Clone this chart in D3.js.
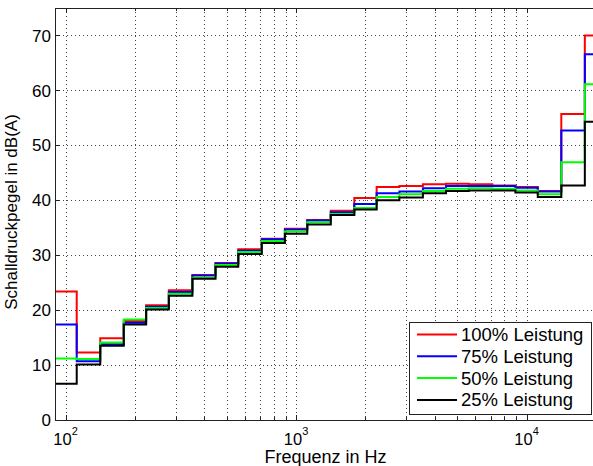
<!DOCTYPE html>
<html><head><meta charset="utf-8">
<script src="https://cdn.jsdelivr.net/npm/d3@7"></script>
<style>body{margin:0;background:#fff} svg{display:block}</style>
</head><body><svg id="c" width="593" height="466"></svg>
<script>
// Third-octave band centre frequencies (Hz)
const bandCenters = [100,125,160,200,250,315,400,500,630,800,1000,1250,1600,2000,2500,3150,4000,5000,6300,8000,10000,12500,16000,20000];
// Sound pressure level in dB(A) per band
const p100 = [23.4,12.3,14.9,18.0,20.9,23.6,26.4,28.6,31.1,33.0,34.8,36.4,38.1,40.4,42.4,42.6,42.9,43.0,42.9,42.7,42.4,41.7,55.7,70.0];
const p75  = [17.4,10.7,13.8,17.7,20.6,23.3,26.3,28.5,30.8,32.9,34.7,36.3,37.8,39.3,41.3,41.6,42.2,42.6,42.6,42.6,42.3,41.6,52.7,66.6];
const p50  = [11.2,11.1,14.1,18.3,20.4,23.0,25.9,28.2,30.6,32.6,34.3,36.0,37.5,38.6,40.6,41.1,41.7,42.1,42.2,42.1,41.8,41.1,46.9,61.1];
const p25  = [ 6.6,10.1,13.5,17.4,20.1,22.6,25.7,27.9,30.2,32.2,33.9,35.6,37.3,38.3,40.0,40.5,41.3,41.7,41.8,41.8,41.4,40.6,42.7,54.3];
const seriesNames = ["100% Leistung","75% Leistung","50% Leistung","25% Leistung"];
const seriesColors = ["#ff0000","#0000ff","#00ff00","#000000"];
const yTicks = [0,10,20,30,40,50,60,70];
const xMajorTicks = [100,1000,10000];
const xTickBase = "10";
const xTickExponents = ["2","3","4"];
const xLabel = "Frequenz in Hz";
const yLabel = "Schalldruckpegel in dB(A)";

const series = [p100,p75,p50,p25];
const L = 55, R = 596, T = 8, B = 420;
const svg = d3.select("#c");
const font = "'Liberation Sans', Arial, sans-serif";

const x = d3.scaleLog().domain([90,20000]).range([L,R]);
const y = d3.scaleLinear().domain([0,75]).range([B,T]);

// band edges (geometric means between neighbouring centres)
const edges = bandCenters.map((c,i) => i===0 ? c/Math.sqrt(bandCenters[1]/bandCenters[0]) : Math.sqrt(bandCenters[i-1]*c));
const lastEdge = bandCenters[bandCenters.length-1]*Math.sqrt(bandCenters[bandCenters.length-1]/bandCenters[bandCenters.length-2]);

svg.append("defs").append("clipPath").attr("id","clip")
  .append("rect").attr("x",L).attr("y",T).attr("width",R-L).attr("height",B-T);

// grid
const minorX = [];
[100,1000,10000].forEach(d => { for (let k=1;k<10;k++){ const v=d*k; if (v>=90 && v<=20000) minorX.push(v);} });
const grid = svg.append("g").attr("stroke","#444").attr("stroke-width",1).attr("stroke-dasharray","1,3");
grid.selectAll("line.v").data(minorX).join("line")
  .attr("x1",d=>Math.round(x(d))+0.5).attr("x2",d=>Math.round(x(d))+0.5).attr("y1",T).attr("y2",B);
grid.selectAll("line.h").data(yTicks.filter(d=>d>0)).join("line")
  .attr("y1",d=>Math.round(y(d))+0.5).attr("y2",d=>Math.round(y(d))+0.5).attr("x1",L).attr("x2",R);

// stairs
const line = d3.line().x(d=>x(d[0])).y(d=>y(d[1])).curve(d3.curveStepAfter);
const plot = svg.append("g").attr("clip-path","url(#clip)");
series.forEach((s,i) => {
  const pts = s.map((v,j)=>[edges[j],v]);
  pts.push([lastEdge, s[s.length-1]]);
  plot.append("path").datum(pts).attr("d",line).attr("fill","none")
    .attr("stroke",seriesColors[i]).attr("stroke-width",2);
});

// axes box
const ax = svg.append("g").attr("stroke","#222").attr("stroke-width",1).attr("fill","none");
ax.append("line").attr("x1",L+0.5).attr("x2",L+0.5).attr("y1",T).attr("y2",B);
ax.append("line").attr("x1",L).attr("x2",R).attr("y1",B+0.5).attr("y2",B+0.5);
ax.append("line").attr("x1",L).attr("x2",R).attr("y1",T+0.5).attr("y2",T+0.5);
// ticks
yTicks.forEach(d => {
  ax.append("line").attr("x1",L).attr("x2",L+5).attr("y1",Math.round(y(d))+0.5).attr("y2",Math.round(y(d))+0.5);
});
minorX.forEach(d => {
  const len = xMajorTicks.includes(d) ? 5 : 3;
  const xx = Math.round(x(d))+0.5;
  ax.append("line").attr("x1",xx).attr("x2",xx).attr("y1",B).attr("y2",B-len);
  ax.append("line").attr("x1",xx).attr("x2",xx).attr("y1",T).attr("y2",T+len);
});

// y tick labels
svg.append("g").selectAll("text").data(yTicks).join("text")
  .attr("x",51).attr("y",d=>y(d)).attr("dy","0.36em").attr("text-anchor","end")
  .attr("font-family",font).attr("font-size",17).attr("fill","#000").text(d=>d);

// x tick labels
xMajorTicks.forEach((d,i) => {
  const t = svg.append("text").attr("x",x(d)).attr("y",445).attr("text-anchor","middle")
    .attr("font-family",font).attr("font-size",16.5).attr("fill","#000");
  t.append("tspan").text(xTickBase);
  t.append("tspan").attr("dy",-10).attr("font-size",11).text(xTickExponents[i]);
});

// axis labels
svg.append("text").attr("x",(L+R)/2).attr("y",463).attr("text-anchor","middle")
  .attr("font-family",font).attr("font-size",18).attr("fill","#000").text(xLabel);
svg.append("text").attr("transform","translate(17,212) rotate(-90)").attr("text-anchor","middle")
  .attr("font-family",font).attr("font-size",17).attr("fill","#000").text(yLabel);

// legend
const lg = svg.append("g");
lg.append("rect").attr("x",409.5).attr("y",322.5).attr("width",182).attr("height",92)
  .attr("fill","#fff").attr("stroke","#222").attr("stroke-width",1);
seriesNames.forEach((n,i) => {
  const ly = 334.5 + i*21.8;
  lg.append("line").attr("x1",417).attr("x2",457).attr("y1",ly).attr("y2",ly)
    .attr("stroke",seriesColors[i]).attr("stroke-width",2);
  lg.append("text").attr("x",461).attr("y",ly+6.5).attr("font-family",font).attr("font-size",18.5)
    .attr("fill","#000").text(n);
});
</script></body></html>
